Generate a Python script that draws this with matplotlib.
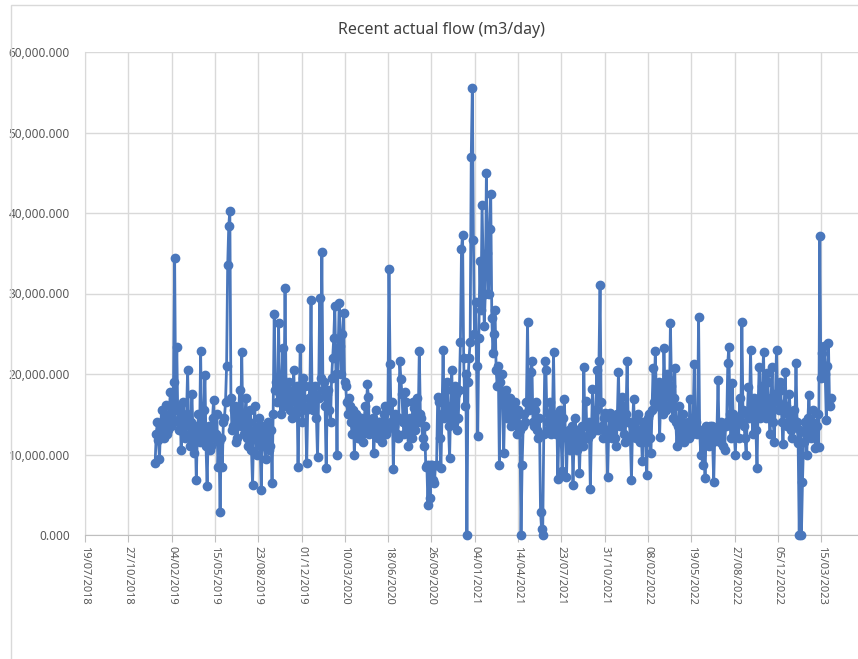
import numpy as np
import matplotlib
matplotlib.use('Agg')
import matplotlib.pyplot as plt
import matplotlib.dates as mdates
from matplotlib.patches import Rectangle
from matplotlib.ticker import FuncFormatter, FixedLocator
import pandas as pd

plt.rcParams['font.family'] = ['Noto Sans', 'DejaVu Sans']

# flow readings (thousand m3/day), one every 2.5 days from 28/12/2018
flow_2019 = [9.0, 12.5, 14.0, 11.8, 9.4, 13.5, 15.5, 13.0, 12.0, 14.8, 16.2, 12.5, 13.0, 15.0, 17.8, 13.5, 14.5, 19.0, 34.4, 15.5,
             23.3, 14.0, 13.0, 16.0, 10.5, 14.5, 16.5, 12.5, 12.0, 15.0, 20.5, 13.5, 11.0, 14.0, 17.5, 12.0, 10.2, 13.5, 6.8, 12.5,
             15.0, 11.5, 22.8, 13.0, 12.0, 15.5, 19.9, 11.0, 6.1, 12.5, 13.5, 10.5, 11.0, 14.5, 16.8, 12.0, 12.5, 15.0, 8.5, 11.5,
             2.9, 12.0, 8.4, 14.0, 14.5, 16.5, 21.0, 33.5, 38.4, 40.3, 17.0, 13.0, 13.5, 15.5, 16.0, 11.5, 12.0, 14.5, 18.0, 13.5,
             22.7, 13.5, 12.5, 15.0, 17.0, 12.0, 11.0, 14.0, 15.5, 10.5, 6.2, 13.0, 16.0, 12.0, 10.0, 13.5, 14.5, 11.0, 5.6, 12.5,
             13.5, 11.0, 9.5, 12.5, 14.0, 10.5, 11.0, 13.0, 6.5, 15.0, 27.4, 18.0, 19.0, 16.5, 26.3, 17.5, 15.0, 19.5, 23.2, 16.0,
             30.7, 17.5, 16.0, 18.0, 19.0, 15.5, 14.5, 17.0, 20.5, 16.5, 15.0, 18.5, 8.4, 16.0, 23.2, 17.0, 14.0, 19.5, 18.5, 15.5,
             8.9, 16.0, 17.0, 18.5, 29.2, 16.5, 15.5, 17.5, 18.5, 14.5, 9.7, 17.0, 29.4, 19.5, 35.2, 18.0, 19.0, 16.0, 8.3, 17.5]
flow_2020 = [18.0, 15.5, 14.0, 19.5, 22.0, 24.5, 28.4, 20.0, 9.9, 22.5, 28.8, 23.5, 20.0, 25.0, 27.6, 19.0, 18.5, 16.5, 15.0, 17.0,
             16.0, 14.0, 12.5, 15.5, 10.0, 13.5, 15.0, 12.0, 12.0, 14.5, 14.5, 12.5, 11.5, 14.0, 16.0, 13.0, 18.8, 17.1, 12.5, 14.0,
             13.0, 14.5, 10.2, 13.5, 15.5, 12.5, 12.0, 14.0, 14.0, 12.0, 11.5, 15.0, 16.0, 12.5, 13.0, 15.5, 33.0, 21.3, 14.0, 16.5,
             8.2, 13.5, 15.0, 12.5, 12.0, 14.5, 21.6, 19.4, 17.5, 14.0, 12.5, 17.8, 16.5, 13.0, 11.0, 14.5, 14.0, 12.0, 16.5, 15.8,
             13.0, 15.5, 17.0, 14.0, 22.9, 15.0, 14.5, 12.0, 11.0, 13.5, 8.5, 8.7, 3.7, 8.7, 4.6, 8.7, 8.7, 6.8, 6.5, 8.7,
             8.7, 17.1, 16.5, 12.0, 8.3, 15.0, 23.0, 14.5, 15.0, 18.0, 19.0, 13.5, 9.6, 16.0, 20.5, 14.5, 14.0, 18.5, 17.5, 13.0,
             14.5, 18.0, 24.0, 35.5, 37.3, 22.0, 16.0, 20.0, 0.0, 19.0, 22.0, 24.0, 47.0, 55.5, 36.7, 25.0, 29.0, 21.0, 12.3, 24.5]
flow_2021 = [34.0, 28.0, 41.0, 33.5, 26.0, 30.0, 45.0, 35.0, 30.0, 38.0, 42.4, 27.0, 22.6, 25.0, 28.0, 20.5, 18.5, 21.0, 8.7, 19.0,
             20.0, 17.5, 10.2, 16.5, 18.0, 14.5, 15.5, 17.0, 17.0, 13.5, 14.0, 16.0, 16.5, 14.0, 12.5, 15.5, 15.0, 13.0, 0.0, 8.7,
             13.5, 15.0, 14.0, 16.5, 26.5, 15.5, 16.0, 20.2, 21.6, 14.0, 13.5, 15.5, 16.5, 13.0, 12.0, 14.5, 2.9, 0.7, 0.0, 12.5,
             21.6, 20.5, 14.0, 13.0, 15.0, 16.5, 12.5, 14.0, 22.7, 13.5, 12.5, 15.0, 7.0, 13.0, 15.5, 12.0, 8.0, 14.5, 16.9, 12.5,
             7.2, 12.5, 13.0, 10.5, 11.0, 13.5, 6.2, 12.0, 14.5, 11.5, 10.5, 13.0, 7.7, 12.5, 13.5, 11.0, 20.9, 13.5, 16.7, 12.0,
             12.0, 14.0, 5.7, 12.5, 18.1, 13.5, 13.0, 15.5, 20.5, 13.0, 21.6, 31.1, 16.5, 13.5, 12.0, 14.5, 15.2, 12.0, 7.2, 13.0,
             15.2, 13.0, 12.0, 14.5, 14.5, 12.0, 11.0, 15.0, 20.3, 13.5, 13.5, 17.1, 16.0, 12.5, 11.5, 15.0, 21.6, 14.0, 14.0, 12.0]
flow_2022 = [6.8, 13.5, 16.9, 12.5, 12.0, 14.5, 15.0, 12.0, 11.5, 13.0, 9.2, 14.0, 13.5, 11.5, 7.4, 14.5, 15.0, 12.0, 10.2, 15.5,
             20.7, 16.5, 22.8, 17.5, 16.0, 19.0, 12.2, 17.0, 18.5, 15.0, 23.2, 18.0, 15.5, 20.0, 19.5, 16.0, 26.3, 18.5, 14.5, 17.0,
             20.7, 14.0, 11.0, 13.5, 16.0, 12.0, 12.5, 14.0, 15.0, 11.5, 12.0, 13.5, 14.0, 12.0, 16.9, 13.0, 12.5, 14.5, 21.2, 13.0,
             14.0, 12.5, 27.1, 13.0, 10.0, 12.5, 8.7, 12.0, 7.1, 13.5, 13.0, 11.5, 11.0, 13.5, 13.5, 11.5, 6.6, 12.5, 12.0, 13.0,
             19.3, 12.0, 11.5, 14.0, 13.5, 11.0, 10.5, 13.5, 14.0, 21.4, 23.4, 15.0, 12.0, 18.9, 15.0, 12.5, 10.0, 14.0, 14.5, 12.0,
             17.0, 14.0, 26.4, 15.5, 13.5, 12.0, 10.0, 15.0, 18.4, 14.5, 23.0, 16.5, 12.5, 17.0, 15.5, 13.0, 8.3, 16.0, 20.9, 14.5,
             15.0, 18.5, 22.7, 16.0, 14.5, 20.1, 19.0, 15.5, 12.5, 17.0, 20.9, 14.0, 11.6, 17.5, 23.0, 16.5, 15.5, 19.0, 18.0, 14.0]
flow_2023 = [11.3, 15.5, 20.3, 16.0, 13.5, 15.0, 17.5, 13.0, 12.0, 14.5, 15.5, 13.5, 21.4, 14.0, 11.4, 0.0, 13.0, 0.0, 6.6, 11.5,
             14.0, 12.5, 10.0, 14.5, 17.4, 13.0, 12.0, 14.0, 15.5, 12.5, 10.8, 13.5, 15.0, 10.9, 37.1, 19.5, 22.6, 19.6, 23.5, 20.0,
             14.3, 21.0, 23.9, 16.0, 17.0]

first_day = '2018-12-28'
step = pd.Timedelta(hours=60)
tick_start = '2018-07-19'
tick_step = '100D'
n_ticks = 19
y_ticks = [0, 10000, 20000, 30000, 40000, 50000, 60000]

flow = np.array(flow_2019 + flow_2020 + flow_2021 + flow_2022 + flow_2023) * 1000
days = pd.date_range(first_day, periods=len(flow), freq=step)
tick_days = pd.date_range(tick_start, periods=n_ticks, freq=tick_step)

fig = plt.figure(figsize=(8.58, 6.59), dpi=100)
ax = fig.add_axes([85/858, 1 - 535/659, 779.4/858, 483/659])

ax.plot(days, flow, color='#4a77bc', lw=2.0, marker='o', ms=6.0,
        mec='#4a77bc', mfc='#4a77bc', zorder=3, clip_on=False)

ax.set_xlim(tick_days[0], tick_days[-1])
ax.set_ylim(0, 60000)
ax.xaxis.set_major_locator(FixedLocator(mdates.date2num(tick_days)))
ax.xaxis.set_major_formatter(mdates.DateFormatter('%d/%m/%Y'))
ax.set_yticks(y_ticks)
ax.yaxis.set_major_formatter(FuncFormatter(lambda v, p: f'{v:,.3f}'))

ax.grid(True, color='#d9d9d9', lw=1)
ax.set_axisbelow(True)
for s in ['top', 'right']:
    ax.spines[s].set_visible(False)
ax.spines['left'].set_color('#d9d9d9')
ax.spines['bottom'].set_color('#bfbfbf')

ax.tick_params(axis='x', labelrotation=-90, labelsize=8, labelcolor='#595959',
               length=5, color='#bfbfbf', pad=3)
ax.tick_params(axis='y', labelsize=8.5, labelcolor='#595959', length=0, pad=11)
for lab in ax.get_xticklabels():
    lab.set_va('top')
    lab.set_ha('center')

fig.text(441/858, 1 - 30/659, 'Recent actual flow (m3/day)', ha='center',
         va='center', fontsize=11.5, color='#404040')

# chart frame
fig.patches.append(Rectangle((11/858, -0.1), 1.2, 1 - 5/659 + 0.1,
                             transform=fig.transFigure, fill=False,
                             ec='#d9d9d9', lw=1))

fig.savefig('out.png', dpi=100)
